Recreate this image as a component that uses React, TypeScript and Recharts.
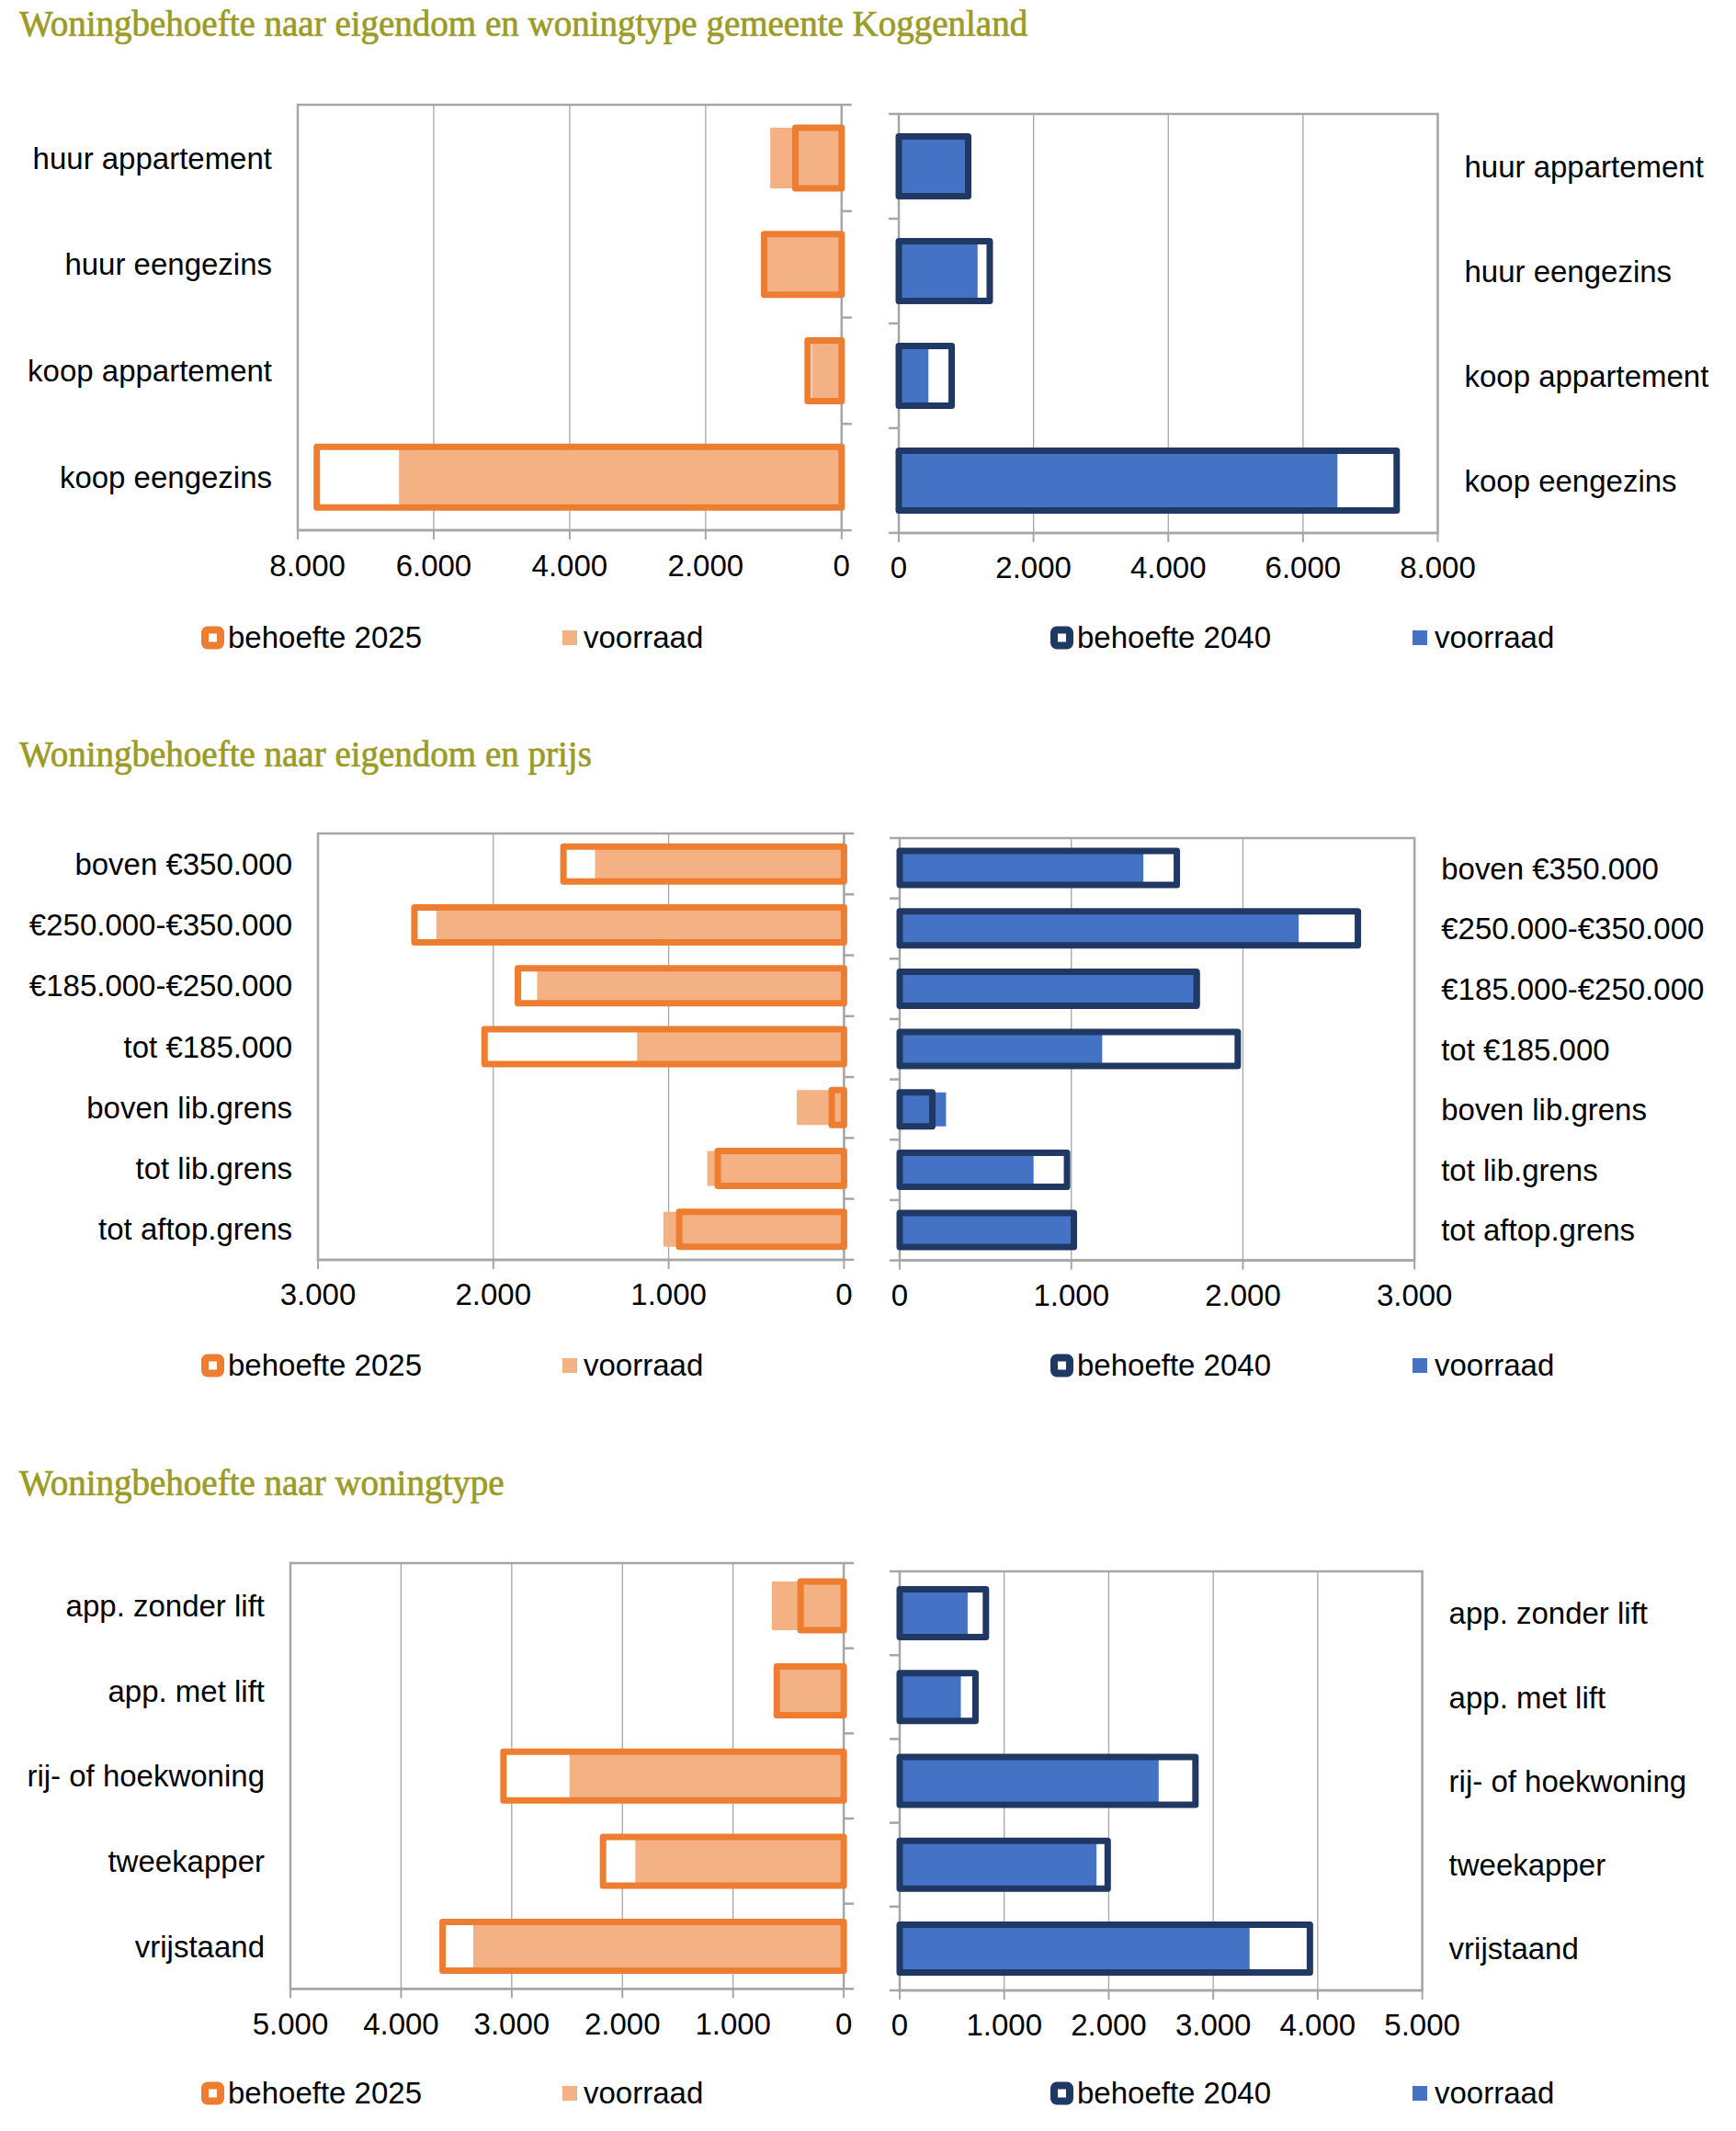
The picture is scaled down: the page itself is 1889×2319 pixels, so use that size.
import React from 'react';
import { BarChart, Bar, XAxis, YAxis, CartesianGrid, ReferenceArea } from 'recharts';

const SANS = '"Liberation Sans", Arial, sans-serif';
const SERIF = '"Liberation Serif", "Times New Roman", serif';
const GRID = '#A6A6A6';
const ORANGE = '#ED7D31';
const LIGHT_ORANGE = '#F4B183';
const NAVY = '#203864';
const BLUE = '#4472C4';
const TITLE_COLOR = '#9B9B26';

// Chart 1: eigendom en woningtype
const typeCats = ['huur appartement', 'huur eengezins', 'koop appartement', 'koop eengezins'];
const typeNeed2025 = [680, 1140, 500, 7720];
const typeNeed2040 = [1030, 1350, 785, 7390];
const typeStock = [1050, 1170, 440, 6510];
const typeTicks = [0, 2000, 4000, 6000, 8000];

// Chart 2: eigendom en prijs
const priceCats = ['boven €350.000', '€250.000-€350.000', '€185.000-€250.000', 'tot €185.000', 'boven lib.grens', 'tot lib.grens', 'tot aftop.grens'];
const priceNeed2025 = [1600, 2450, 1860, 2050, 70, 720, 940];
const priceNeed2040 = [1615, 2670, 1730, 1970, 190, 975, 1015];
const priceStock = [1420, 2325, 1750, 1180, 270, 780, 1030];
const priceTicks = [0, 1000, 2000, 3000];

// Chart 3: woningtype
const houseCats = ['app. zonder lift', 'app. met lift', 'rij- of hoekwoning', 'tweekapper', 'vrijstaand'];
const houseNeed2025 = [390, 605, 3075, 2175, 3625];
const houseNeed2040 = [825, 725, 2830, 1990, 3925];
const houseStock = [650, 585, 2478, 1883, 3348];
const houseTicks = [0, 1000, 2000, 3000, 4000, 5000];

const titles = [
  'Woningbehoefte naar eigendom en woningtype gemeente Koggenland',
  'Woningbehoefte naar eigendom en prijs',
  'Woningbehoefte naar woningtype',
];
const legendLabels = ['behoefte 2025', 'voorraad', 'behoefte 2040', 'voorraad'];

const FONT_PX = 33;
const fmt = (v: number) => String(v).replace(/\B(?=(\d{3})+(?!\d))/g, '.');
const textWidth = (s: string) =>
  s.split('').reduce((w, ch) => w + (ch === '.' ? 0.278 : 0.556), 0) * FONT_PX;

type PanelProps = {
  side: 'left' | 'right';
  cats: string[];
  need: number[];
  stock: number[];
  ticks: number[];
  left: number;
  right: number;
  top: number;
  bottom: number;
  outline: string;
  fill: string;
  minLabelX?: number;
};

function Panel(p: PanelProps) {
  const isLeft = p.side === 'left';
  const labelW = 320;
  const markW = 20;
  const topPad = 12;
  const axisH = 70;
  const plotW = p.right - p.left;
  const plotH = p.bottom - p.top;
  const width = labelW + plotW + markW;
  const height = topPad + plotH + axisH;
  const boxLeft = isLeft ? p.left - labelW : p.left - markW;
  const data = p.cats.map((c, i) => ({ cat: c, need: p.need[i], stock: p.stock[i] }));
  const max = p.ticks[p.ticks.length - 1];
  const tickStyle = { fontSize: FONT_PX, fontFamily: SANS, fill: '#000' };
  const minLocal = p.minLabelX !== undefined ? p.minLabelX - boxLeft : -Infinity;

  const ValueTick = (props: any) => {
    const { x, y, payload } = props;
    const label = fmt(payload.value);
    const w = textWidth(label);
    let tx = x;
    let anchor: 'middle' | 'start' = 'middle';
    if (x - w / 2 < minLocal) {
      tx = minLocal;
      anchor = 'start';
    }
    return (
      <text x={tx} y={y} dy="0.71em" textAnchor={anchor} fontSize={FONT_PX} fontFamily={SANS} fill="#000">
        {label}
      </text>
    );
  };

  // tick marks on the category band boundaries (Excel style), at the zero side
  const BoundaryTick = (props: any) => {
    const { x, y, payload, index } = props;
    const off = payload && typeof payload.offset === 'number' ? payload.offset : 0;
    const dir = isLeft ? 1 : -1;
    const ys = [y - off];
    if (index === p.cats.length - 1) ys.push(y + off);
    return (
      <g>
        {ys.map((ly, i) => (
          <line key={i} x1={x} x2={x + dir * 11} y1={ly} y2={ly} stroke={GRID} strokeWidth={2.5} />
        ))}
      </g>
    );
  };

  return (
    <div style={{ position: 'absolute', left: boxLeft, top: p.top - topPad }}>
      <BarChart
        layout="vertical"
        width={width}
        height={height}
        data={data}
        margin={{ top: topPad, right: 0, bottom: 0, left: 0 }}
        barCategoryGap="21.5%"
      >
        <CartesianGrid horizontal={false} stroke={GRID} strokeWidth={1.3} yAxisId="a" />
        <XAxis
          type="number"
          domain={[0, max]}
          ticks={p.ticks}
          interval={0}
          reversed={isLeft}
          height={axisH}
          tickSize={10}
          tickMargin={16}
          tick={ValueTick}
          tickLine={{ stroke: GRID, strokeWidth: 2 }}
          axisLine={{ stroke: GRID, strokeWidth: 2.5 }}
        />
        <YAxis
          yAxisId="a"
          type="category"
          dataKey="cat"
          orientation={isLeft ? 'left' : 'right'}
          width={labelW}
          interval={0}
          tickLine={false}
          axisLine={false}
          tickSize={0}
          tickMargin={isLeft ? 28 : 29}
          tick={tickStyle}
        />
        <YAxis
          yAxisId="m"
          type="category"
          dataKey="cat"
          orientation={isLeft ? 'right' : 'left'}
          width={markW}
          interval={0}
          tickLine={false}
          axisLine={false}
          tickSize={0}
          tickMargin={0}
          tick={BoundaryTick}
        />
        <YAxis yAxisId="b" type="category" dataKey="cat" hide width={0} />
        <YAxis yAxisId="c" type="category" dataKey="cat" hide width={0} />
        <ReferenceArea yAxisId="a" x1={0} x2={max} fill="none" fillOpacity={0} stroke={GRID} strokeWidth={2.5} />
        <Bar yAxisId="a" dataKey="need" fill="#FFFFFF" isAnimationActive={false} />
        <Bar yAxisId="b" dataKey="stock" fill={p.fill} isAnimationActive={false} />
        <Bar
          yAxisId="c"
          dataKey="need"
          fill="none"
          stroke={p.outline}
          strokeWidth={7}
          strokeLinejoin="round"
          isAnimationActive={false}
        />
      </BarChart>
    </div>
  );
}

function LegendRow({ cy }: { cy: number }) {
  const base = cy + 10.5;
  return (
    <g fontFamily={SANS} fontSize={FONT_PX} fill="#000">
      <rect x={223} y={cy - 8.5} width={17} height={17} rx={3} fill="#FFFFFF" stroke={ORANGE} strokeWidth={8} />
      <text x={248} y={base}>{legendLabels[0]}</text>
      <rect x={612} y={cy - 8} width={16} height={16} fill={LIGHT_ORANGE} />
      <text x={635} y={base}>{legendLabels[1]}</text>
      <rect x={1147} y={cy - 8.5} width={17} height={17} rx={3} fill="#FFFFFF" stroke={NAVY} strokeWidth={8} />
      <text x={1172} y={base}>{legendLabels[2]}</text>
      <rect x={1537} y={cy - 8} width={16} height={16} fill={BLUE} />
      <text x={1561} y={base}>{legendLabels[3]}</text>
    </g>
  );
}

export default function App() {
  return (
    <div style={{ position: 'absolute', left: 0, top: 0, width: 1889, height: 2319, background: '#fff', overflow: 'hidden' }}>
      <svg width={1889} height={2319} style={{ position: 'absolute', left: 0, top: 0 }}>
        <g fontFamily={SERIF} fontSize={39} fill={TITLE_COLOR} stroke={TITLE_COLOR} strokeWidth={0.7}>
          <text x={21} y={39}>{titles[0]}</text>
          <text x={21} y={834}>{titles[1]}</text>
          <text x={21} y={1627}>{titles[2]}</text>
        </g>
        <LegendRow cy={694} />
        <LegendRow cy={1486} />
        <LegendRow cy={2278} />
      </svg>

      <Panel side="left" cats={typeCats} need={typeNeed2025} stock={typeStock} ticks={typeTicks}
        left={323.7} right={915.5} top={113.7} bottom={576.8} outline={ORANGE} fill={LIGHT_ORANGE} minLabelX={293} />
      <Panel side="right" cats={typeCats} need={typeNeed2040} stock={typeStock} ticks={typeTicks}
        left={978} right={1564.5} top={123.7} bottom={579.6} outline={NAVY} fill={BLUE} />

      <Panel side="left" cats={priceCats} need={priceNeed2025} stock={priceStock} ticks={priceTicks}
        left={345.8} right={918.2} top={906.5} bottom={1370.4} outline={ORANGE} fill={LIGHT_ORANGE} />
      <Panel side="right" cats={priceCats} need={priceNeed2040} stock={priceStock} ticks={priceTicks}
        left={978.8} right={1539} top={912.4} bottom={1372} outline={NAVY} fill={BLUE} />

      <Panel side="left" cats={houseCats} need={houseNeed2025} stock={houseStock} ticks={houseTicks}
        left={316.3} right={918.4} top={1700.7} bottom={2164} outline={ORANGE} fill={LIGHT_ORANGE} />
      <Panel side="right" cats={houseCats} need={houseNeed2040} stock={houseStock} ticks={houseTicks}
        left={979.2} right={1547.8} top={1710.4} bottom={2166.4} outline={NAVY} fill={BLUE} />
    </div>
  );
}
